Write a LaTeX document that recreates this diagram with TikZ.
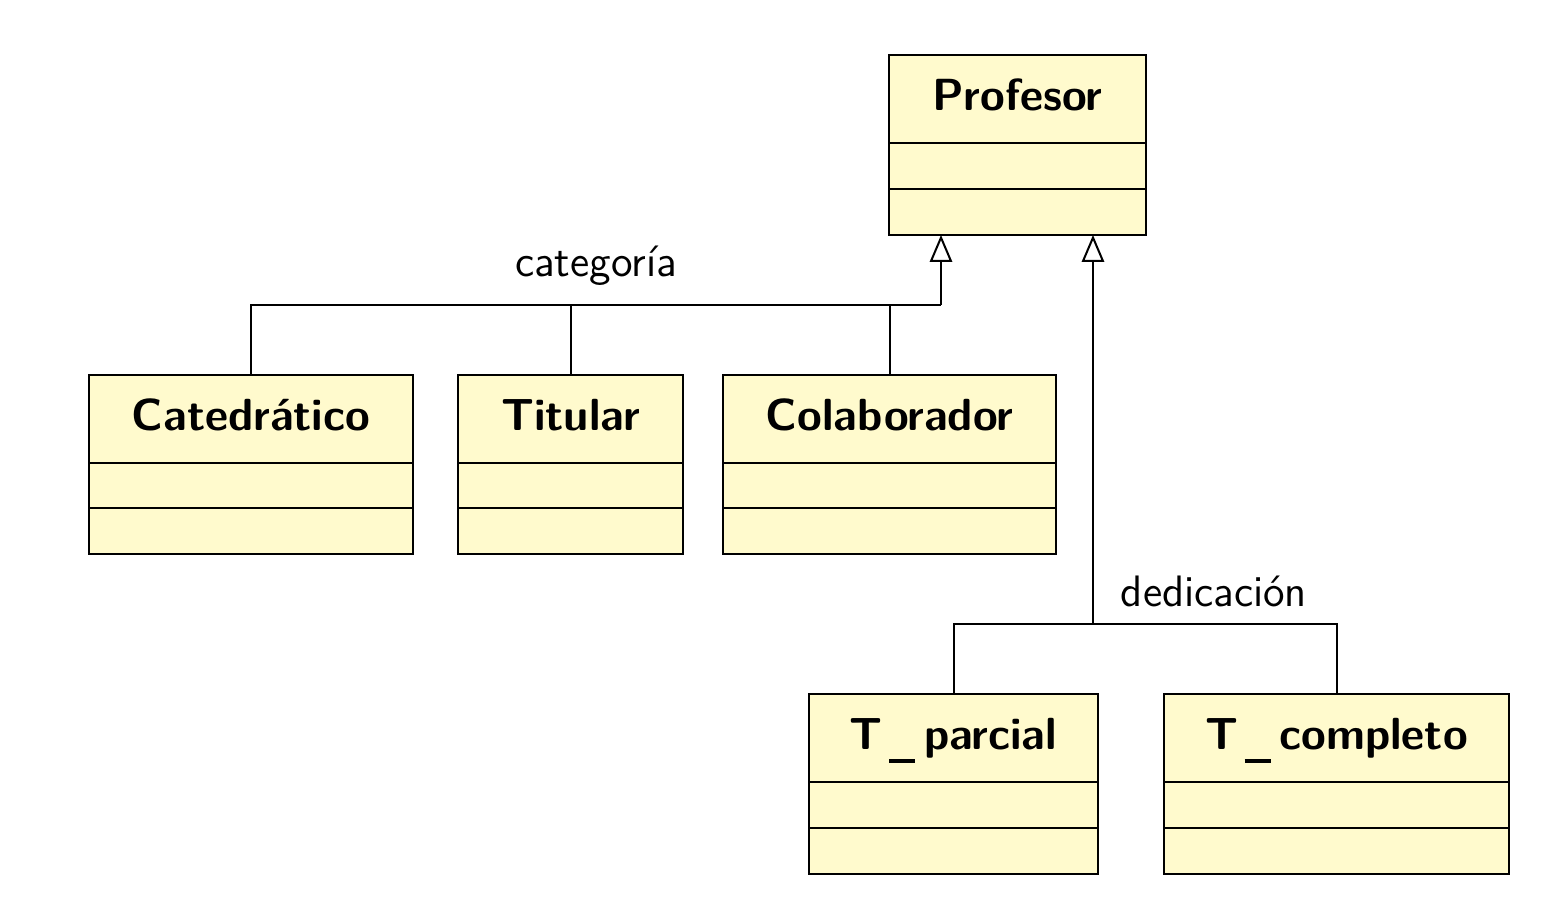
\documentclass[tikz,border=0pt]{standalone}
\usetikzlibrary{arrows.meta,calc}
\definecolor{clsfill}{RGB}{255,250,205}
\tikzset{
  classbox/.style={draw=black, fill=clsfill, line width=0.5pt, inner sep=0pt, outer sep=0pt},
  clsname/.style={font=\fontsize{11.25}{13}\selectfont\sffamily\bfseries, inner sep=0pt, anchor=base},
  genlabel/.style={font=\fontsize{11}{13}\selectfont\sffamily, inner sep=0pt, anchor=base},
  conn/.style={line width=0.5pt, draw=black},
  genarrow/.style={conn, -{Triangle[open, length=6.75pt, width=5.6pt, fill=white]}}
}
\newcommand{\uscore}{\hspace{1.6pt}\rule[-3.2pt]{6.5pt}{1pt}\hspace{2.2pt}}
\newcommand{\umlcls}[6]{%
  \pgfmathsetmacro\clsw{(#4-#2)*0.25}%
  \pgfmathsetmacro\clsh{(#5-#3)*0.25}%
  \node[classbox, minimum width=\clsw pt, minimum height=\clsh pt, anchor=north west] (#1) at (#2,#3) {};
  \draw[conn] ($(#1.north west)!0.4889!(#1.south west)$) -- ($(#1.north east)!0.4889!(#1.south east)$);
  \draw[conn] ($(#1.north west)!0.7444!(#1.south west)$) -- ($(#1.north east)!0.7444!(#1.south east)$);
  \node[clsname] (#1-name) at ($(#1.north)+(0,56)$) {#6};
}
\begin{document}
\begin{tikzpicture}[x=0.25pt, y=-0.25pt]
\useasboundingbox (0,0) rectangle (1566,906);
\umlcls{prof}{889}{55}{1146}{235}{Profesor}
\umlcls{cat}{89}{375}{413}{554}{Catedrático}
\umlcls{tit}{458}{375}{683}{554}{Titular}
\umlcls{col}{723}{375}{1056}{554}{Colaborador}
\umlcls{tp}{809}{694}{1098}{874}{T\uscore parcial}
\umlcls{tc}{1164}{694}{1509}{874}{T\uscore completo}
% categoria generalization
\coordinate (jc) at (941,305);
\draw[conn] (cat.north) |- (jc);
\draw[conn] (tit.north) -- (tit.north |- jc);
\draw[conn] (col.north) -- (col.north |- jc);
\draw[genarrow] (jc) -- (jc |- prof.south);
\node[genlabel] (lcat) at (596,277) {categoría};
% dedicacion generalization
\coordinate (jd) at (1093,624);
\draw[conn] (tp.north) |- (jd) -| (tc.north);
\draw[genarrow] (jd) -- (jd |- prof.south);
\node[genlabel] (lded) at (1214,607) {dedicación};
\end{tikzpicture}
\end{document}
